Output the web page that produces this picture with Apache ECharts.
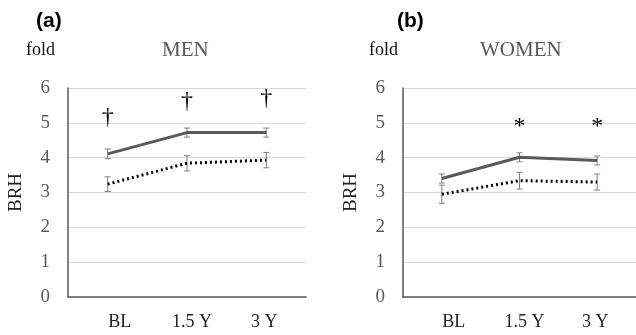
<!DOCTYPE html>
<html><head><meta charset="utf-8">
<script src="https://cdn.jsdelivr.net/npm/echarts@6/dist/echarts.min.js"></script>
<style>html,body{margin:0;padding:0;background:#fff}#c{width:636px;height:335px}</style>
</head><body><div id="c"></div>
<script>
var categories = ['BL', '1.5 Y', '3 Y'];
var yTicks = [0, 1, 2, 3, 4, 5, 6];
var menSolid = [4.11, 4.72, 4.72];
var menSolidErr = [0.14, 0.13, 0.13];
var menDotted = [3.24, 3.84, 3.93];
var menDottedErr = [0.21, 0.22, 0.22];
var womenSolid = [3.40, 4.01, 3.92];
var womenSolidErr = [0.13, 0.13, 0.13];
var womenDotted = [2.95, 3.34, 3.30];
var womenDottedErr = [0.26, 0.24, 0.23];
var menMarks = ['†', '†', '†'];
var menMarkY = [5.14, 5.6, 5.69];
var womenMarks = ['', '*', '*'];
var womenMarkY = [0, 4.89, 4.89];

var serif = '"Liberation Serif", "DejaVu Serif", serif';
var chart = echarts.init(document.getElementById('c'), null, {renderer: 'canvas'});

function errData(vals, errs) {
  return vals.map(function (v, i) { return [i, v - errs[i], v + errs[i]]; });
}
function errSeries(idx, vals, errs) {
  return {
    type: 'custom', xAxisIndex: idx, yAxisIndex: idx, z: 1,
    data: errData(vals, errs),
    encode: {x: 0, y: [1, 2]},
    renderItem: function (params, api) {
      var lo = api.coord([api.value(0), api.value(1)]);
      var hi = api.coord([api.value(0), api.value(2)]);
      var w = 3;
      var st = {stroke: '#808080', lineWidth: 1};
      return {type: 'group', children: [
        {type: 'line', shape: {x1: lo[0], y1: lo[1], x2: hi[0], y2: hi[1]}, style: st},
        {type: 'line', shape: {x1: lo[0] - w, y1: lo[1], x2: lo[0] + w, y2: lo[1]}, style: st},
        {type: 'line', shape: {x1: hi[0] - w, y1: hi[1], x2: hi[0] + w, y2: hi[1]}, style: st}
      ]};
    }
  };
}
function markSeries(idx, marks, ys, size) {
  var d = [];
  marks.forEach(function (m, i) { if (m) d.push([i, ys[i], m]); });
  return {
    type: 'custom', xAxisIndex: idx, yAxisIndex: idx, z: 3,
    data: d, encode: {x: 0, y: 1},
    renderItem: function (params, api) {
      var p = api.coord([api.value(0), api.value(1)]);
      return {type: 'text', style: {text: marks[api.value(0)], x: p[0], y: p[1],
        textAlign: 'center', textVerticalAlign: 'middle', fill: '#000',
        font: size + 'px ' + serif}};
    }
  };
}
function lineSeries(idx, vals, dotted) {
  return {
    type: 'line', xAxisIndex: idx, yAxisIndex: idx, data: vals, z: 2,
    symbol: 'none', silent: true,
    lineStyle: dotted ? {color: '#000', width: 3, type: [2, 3]} : {color: '#595959', width: 3, type: 'solid'}
  };
}
var labelKeys = ['a', 'b', 'c'];
function xAx(idx) {
  return {type: 'category', gridIndex: idx, data: categories, boundaryGap: true,
    axisLine: {lineStyle: {color: '#595959', width: 1.5}}, axisTick: {show: false},
    axisLabel: {interval: 0, hideOverlap: false, color: '#222', fontFamily: serif, fontSize: 18, margin: 16,
      formatter: function (v, i) { return '{' + labelKeys[i] + '|' + v + '}'; },
      rich: {
        a: {fontFamily: serif, fontSize: 18, color: '#222', padding: [0, 0, 0, 24]},
        b: {fontFamily: serif, fontSize: 18, color: '#222', padding: [0, 0, 0, 10]},
        c: {fontFamily: serif, fontSize: 18, color: '#222', padding: [0, 4, 0, 0]}
      }}};
}
function yAx(idx) {
  return {type: 'value', gridIndex: idx, min: yTicks[0], max: yTicks[yTicks.length - 1], interval: 1,
    name: 'BRH', nameLocation: 'middle', nameGap: 42, nameRotate: 90,
    nameTextStyle: {color: '#222', fontFamily: serif, fontSize: 19},
    axisLine: {show: true, lineStyle: {color: '#595959', width: 1.5}}, axisTick: {show: false},
    splitLine: {lineStyle: {color: '#d9d9d9', width: 1}},
    axisLabel: {color: '#595959', fontFamily: serif, fontSize: 19, margin: 18}};
}

chart.setOption({
  animation: false,
  grid: [
    {left: 68, top: 88, width: 238, height: 209},
    {left: 403, top: 88, width: 238, height: 209}
  ],
  xAxis: [xAx(0), xAx(1)],
  yAxis: [yAx(0), yAx(1)],
  graphic: [
    {type: 'text', left: 36, top: 11, style: {text: '(a)', font: 'bold 21px "Liberation Sans", Arial, sans-serif', fill: '#000'}},
    {type: 'text', left: 397, top: 11, style: {text: '(b)', font: 'bold 21px "Liberation Sans", Arial, sans-serif', fill: '#000'}},
    {type: 'text', left: 26, top: 41, style: {text: 'fold', font: '18px ' + serif, fill: '#111'}},
    {type: 'text', left: 369, top: 41, style: {text: 'fold', font: '18px ' + serif, fill: '#111'}},
    {type: 'text', left: 162, top: 40, style: {text: 'MEN', font: '21px ' + serif, fill: '#595959'}},
    {type: 'text', left: 480, top: 40, style: {text: 'WOMEN', font: '21px ' + serif, fill: '#595959'}}
  ],
  series: [
    errSeries(0, menSolid, menSolidErr),
    errSeries(0, menDotted, menDottedErr),
    lineSeries(0, menSolid, false),
    lineSeries(0, menDotted, true),
    markSeries(0, menMarks, menMarkY, 24),
    errSeries(1, womenSolid, womenSolidErr),
    errSeries(1, womenDotted, womenDottedErr),
    lineSeries(1, womenSolid, false),
    lineSeries(1, womenDotted, true),
    markSeries(1, womenMarks, womenMarkY, 24)
  ]
});
</script></body></html>
